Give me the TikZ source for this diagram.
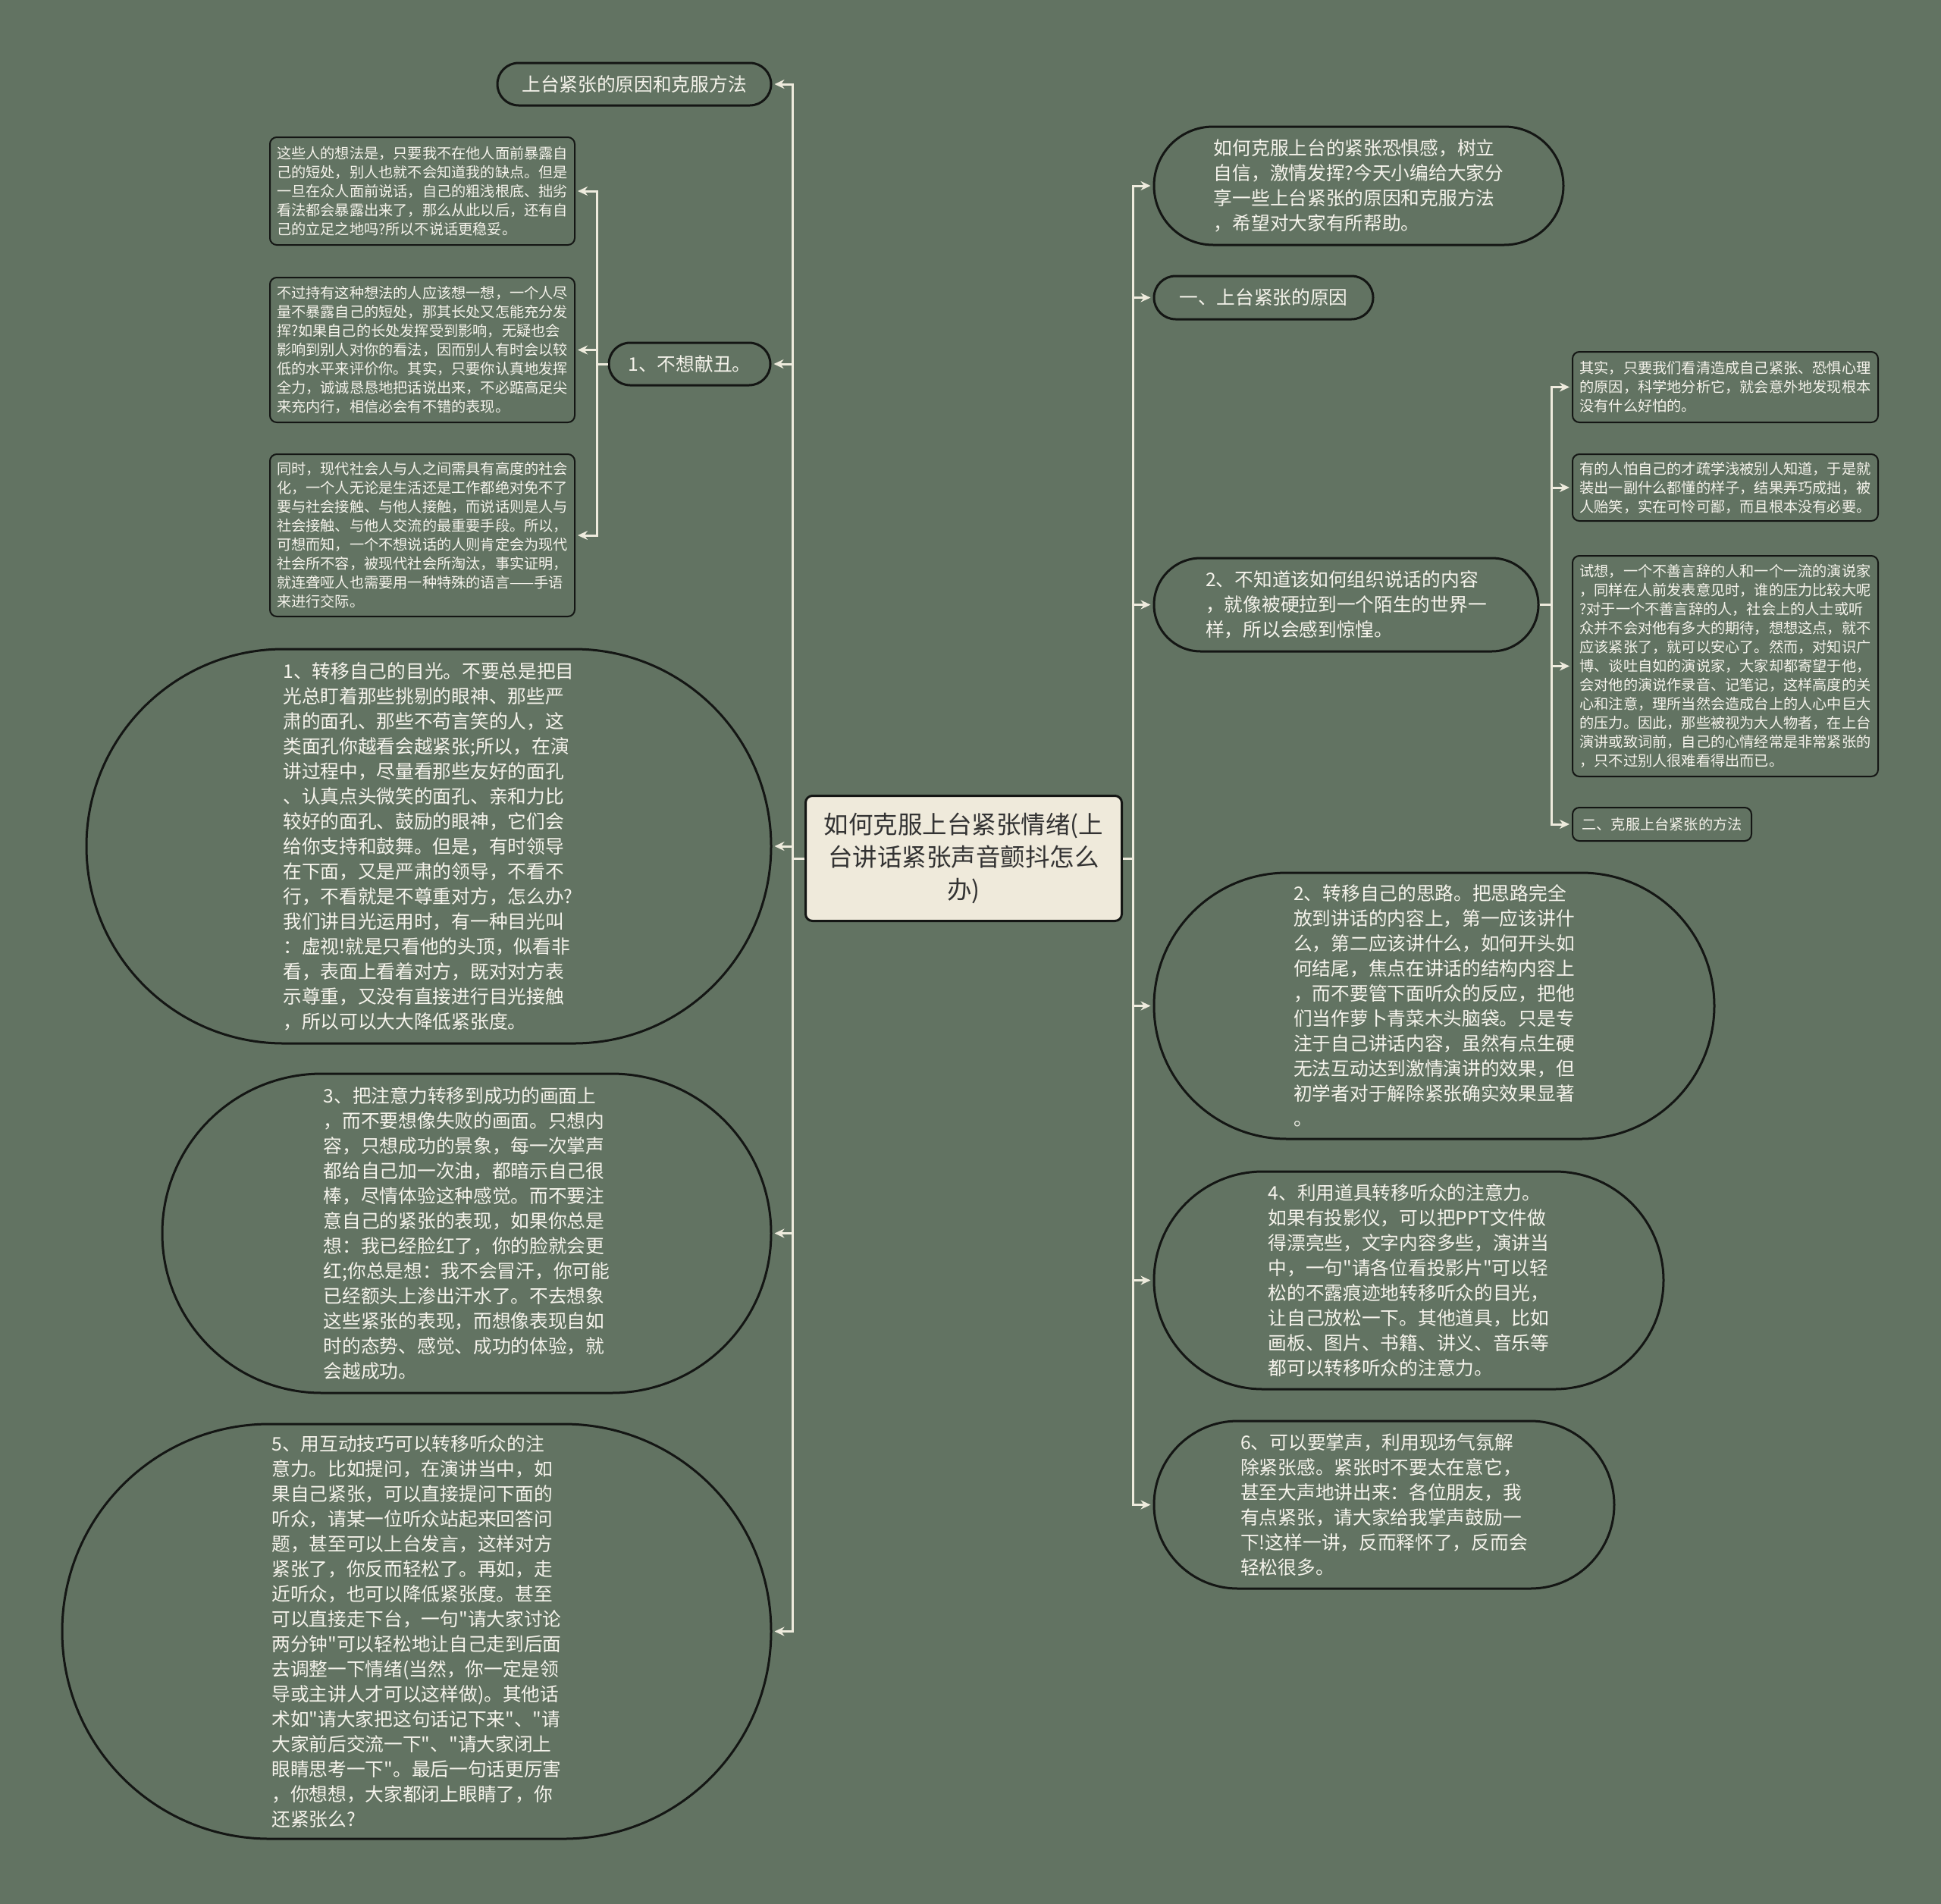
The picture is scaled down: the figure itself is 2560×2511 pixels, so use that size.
\documentclass[tikz,border=0pt]{standalone}
\usepackage{fontspec}
\newfontfamily\cjk{Noto Sans CJK SC}
\usetikzlibrary{arrows.meta, positioning}
\definecolor{fondo}{RGB}{98,115,98}
\definecolor{linea}{RGB}{238,235,221}
\definecolor{texto}{RGB}{245,243,235}
\definecolor{crema}{RGB}{239,234,219}
\definecolor{borde}{RGB}{20,22,20}
\tikzset{
  pill/.style 2 args={draw=borde, line width=3pt, fill=fondo, text=texto, align=left, inner sep=0pt,
    minimum width=#1pt, minimum height=#2pt, rounded corners=#2pt/2,
    font=\cjk\fontsize{24.7pt}{33pt}\selectfont},
  card/.style 2 args={draw=borde, line width=2pt, fill=fondo, text=texto, align=left, inner sep=0pt,
    minimum width=#1pt, minimum height=#2pt, rounded corners=9pt,
    font=\cjk\fontsize{19.2pt}{25pt}\selectfont},
  link/.style={draw=linea, line width=3pt, -{Stealth[length=13pt,width=12pt]}, shorten >=3pt},
}
\begin{document}
\begin{tikzpicture}[x=1pt,y=-1pt]
\fill[fondo] (0,0) rectangle (2560,2511);
\useasboundingbox (0,0) rectangle (2560,2511);
% raiz
\node[draw=borde, line width=3pt, fill=crema, rounded corners=9pt, minimum width=417pt, minimum height=165pt,
  align=center, text=black!80, font=\cjk\fontsize{32.5pt}{43pt}\selectfont] (root) at (1271,1132)
  {如何克服上台紧张情绪(上\\台讲话紧张声音颤抖怎么\\办)};
% izquierda
\node[pill={361}{56}] (L0) at (836.5,111) {上台紧张的原因和克服方法};
\node[pill={213}{56}] (L1) at (909.5,480) {1、不想献丑。};
\node[card={402}{142}] (LS1) at (557,252) {这些人的想法是，只要我不在他人面前暴露自\\己的短处，别人也就不会知道我的缺点。但是\\一旦在众人面前说话，自己的粗浅根底、拙劣\\看法都会暴露出来了，那么从此以后，还有自\\己的立足之地吗?所以不说话更稳妥。};
\node[card={402}{191}] (LS2) at (557,461.5) {不过持有这种想法的人应该想一想，一个人尽\\量不暴露自己的短处，那其长处又怎能充分发\\挥?如果自己的长处发挥受到影响，无疑也会\\影响到别人对你的看法，因而别人有时会以较\\低的水平来评价你。其实，只要你认真地发挥\\全力，诚诚恳恳地把话说出来，不必踮高足尖\\来充内行，相信必会有不错的表现。};
\node[card={402}{214}] (LS3) at (557,706) {同时，现代社会人与人之间需具有高度的社会\\化，一个人无论是生活还是工作都绝对免不了\\要与社会接触、与他人接触，而说话则是人与\\社会接触、与他人交流的最重要手段。所以，\\可想而知，一个不想说话的人则肯定会为现代\\社会所不容，被现代社会所淘汰，事实证明，\\就连聋哑人也需要用一种特殊的语言——手语\\来进行交际。};
\node[pill={903}{520}] (LE1) at (565.5,1116) {1、转移自己的目光。不要总是把目\\光总盯着那些挑剔的眼神、那些严\\肃的面孔、那些不苟言笑的人，这\\类面孔你越看会越紧张;所以，在演\\讲过程中，尽量看那些友好的面孔\\、认真点头微笑的面孔、亲和力比\\较好的面孔、鼓励的眼神，它们会\\给你支持和鼓舞。但是，有时领导\\在下面，又是严肃的领导，不看不\\行，不看就是不尊重对方，怎么办?\\我们讲目光运用时，有一种目光叫\\：虚视!就是只看他的头顶，似看非\\看，表面上看着对方，既对对方表\\示尊重，又没有直接进行目光接触\\，所以可以大大降低紧张度。};
\node[pill={803}{421}] (LE3) at (615.5,1626.5) {3、把注意力转移到成功的画面上\\，而不要想像失败的画面。只想内\\容，只想成功的景象，每一次掌声\\都给自己加一次油，都暗示自己很\\棒，尽情体验这种感觉。而不要注\\意自己的紧张的表现，如果你总是\\想：我已经脸红了，你的脸就会更\\红;你总是想：我不会冒汗，你可能\\已经额头上渗出汗水了。不去想象\\这些紧张的表现，而想像表现自如\\时的态势、感觉、成功的体验，就\\会越成功。};
\node[pill={935}{547}] (LE5) at (549.5,2151.5) {5、用互动技巧可以转移听众的注\\意力。比如提问，在演讲当中，如\\果自己紧张，可以直接提问下面的\\听众，请某一位听众站起来回答问\\题，甚至可以上台发言，这样对方\\紧张了，你反而轻松了。再如，走\\近听众，也可以降低紧张度。甚至\\可以直接走下台，一句"请大家讨论\\两分钟"可以轻松地让自己走到后面\\去调整一下情绪(当然，你一定是领\\导或主讲人才可以这样做)。其他话\\术如"请大家把这句话记下来"、"请\\大家前后交流一下"、"请大家闭上\\眼睛思考一下"。最后一句话更厉害\\，你想想，大家都闭上眼睛了，你\\还紧张么?};
% derecha
\node[pill={540}{156}] (R1) at (1792,245) {如何克服上台的紧张恐惧感，树立\\自信，激情发挥?今天小编给大家分\\享一些上台紧张的原因和克服方法\\，希望对大家有所帮助。};
\node[pill={289}{57}] (R2) at (1666.5,392.5) {一、上台紧张的原因};
\node[pill={507}{123}] (R3) at (1775.5,797.5) {2、不知道该如何组织说话的内容\\，就像被硬拉到一个陌生的世界一\\样，所以会感到惊惶。};
\node[card={403}{93}] (RS1) at (2275.5,510.5) {其实，只要我们看清造成自己紧张、恐惧心理\\的原因，科学地分析它，就会意外地发现根本\\没有什么好怕的。};
\node[card={403}{88}] (RS2) at (2275.5,643) {有的人怕自己的才疏学浅被别人知道，于是就\\装出一副什么都懂的样子，结果弄巧成拙，被\\人贻笑，实在可怜可鄙，而且根本没有必要。};
\node[card={403}{291}] (RS3) at (2275.5,878.5) {试想，一个不善言辞的人和一个一流的演说家\\，同样在人前发表意见时，谁的压力比较大呢\\?对于一个不善言辞的人，社会上的人士或听\\众并不会对他有多大的期待，想想这点，就不\\应该紧张了，就可以安心了。然而，对知识广\\博、谈吐自如的演说家，大家却都寄望于他，\\会对他的演说作录音、记笔记，这样高度的关\\心和注意，理所当然会造成台上的人心中巨大\\的压力。因此，那些被视为大人物者，在上台\\演讲或致词前，自己的心情经常是非常紧张的\\，只不过别人很难看得出而已。};
\node[card={236}{44}] (RS4) at (2192,1087) {二、克服上台紧张的方法};
\node[pill={739}{351}] (RE2) at (1891.5,1326.5) {2、转移自己的思路。把思路完全\\放到讲话的内容上，第一应该讲什\\么，第二应该讲什么，如何开头如\\何结尾，焦点在讲话的结构内容上\\，而不要管下面听众的反应，把他\\们当作萝卜青菜木头脑袋。只是专\\注于自己讲话内容，虽然有点生硬\\无法互动达到激情演讲的效果，但\\初学者对于解除紧张确实效果显著\\。};
\node[pill={672}{287}] (RE4) at (1858,1688.5) {4、利用道具转移听众的注意力。\\如果有投影仪，可以把PPT文件做\\得漂亮些，文字内容多些，演讲当\\中，一句"请各位看投影片"可以轻\\松的不露痕迹地转移听众的目光，\\让自己放松一下。其他道具，比如\\画板、图片、书籍、讲义、音乐等\\都可以转移听众的注意力。};
\node[pill={607}{221}] (RE6) at (1825.5,1984.5) {6、可以要掌声，利用现场气氛解\\除紧张感。紧张时不要太在意它，\\甚至大声地讲出来：各位朋友，我\\有点紧张，请大家给我掌声鼓励一\\下!这样一讲，反而释怀了，反而会\\轻松很多。};
% conectores
\coordinate (lt) at (1045,1132);
\coordinate (rt) at (1494,1132);
\coordinate (lst) at (787,480);
\coordinate (rst) at (2046,797.5);
\foreach \n in {L0,L1,LE1,LE3,LE5} \draw[link] (root.west) -- (lt) |- (\n.east);
\foreach \n in {R1,R2,R3,RE2,RE4,RE6} \draw[link] (root.east) -- (rt) |- (\n.west);
\foreach \n in {LS1,LS2,LS3} \draw[link] (L1.west) -- (lst) |- (\n.east);
\foreach \n in {RS1,RS2,RS3,RS4} \draw[link] (R3.east) -- (rst) |- (\n.west);
\end{tikzpicture}
\end{document}
